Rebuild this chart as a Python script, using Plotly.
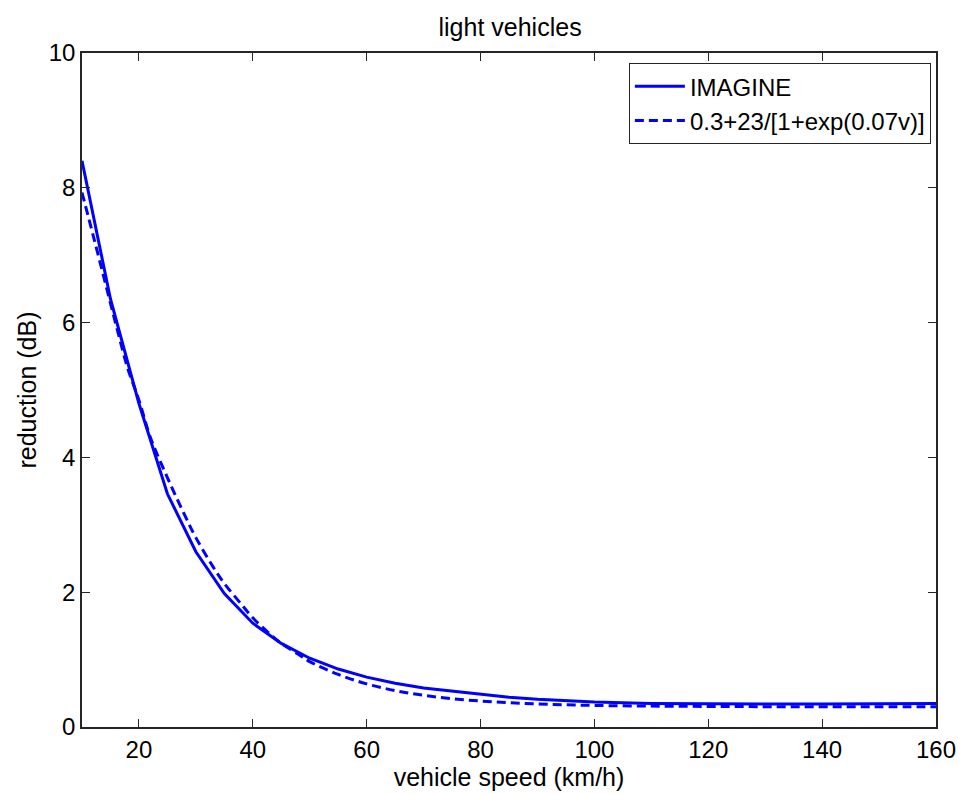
import plotly.graph_objects as go

speed = [10, 15, 20, 25, 30, 35, 40, 45, 50, 55, 60, 65, 70, 75, 80, 85, 90, 95, 100,
         110, 120, 130, 140, 150, 155, 160]
imagine = [8.40, 6.35, 4.80, 3.46, 2.60, 1.98, 1.54, 1.24, 1.02, 0.86, 0.74, 0.65, 0.58,
           0.53, 0.48, 0.44, 0.41, 0.39, 0.37, 0.35, 0.34, 0.34, 0.34, 0.34, 0.35, 0.35]

fit_speed = [10, 12, 14, 16, 18, 20, 22, 25, 28, 30, 33, 35, 38, 40, 43, 45, 48, 50, 55, 60,
             65, 70, 75, 80, 85, 90, 95, 100, 110, 120, 130, 140, 150, 160]
fit_vals = [7.93, 7.28, 6.62, 5.96, 5.33, 4.85, 4.30, 3.70, 3.15, 2.81, 2.38, 2.13, 1.82,
            1.62, 1.38, 1.24, 1.08, 0.97, 0.78, 0.64, 0.54, 0.47, 0.42, 0.385, 0.36, 0.342,
            0.33, 0.32, 0.31, 0.305, 0.302, 0.301, 0.30, 0.30]

x_ticks = [20, 40, 60, 80, 100, 120, 140, 160]
y_ticks = [0, 2, 4, 6, 8, 10]

FONT = "Liberation Sans, Arial, sans-serif"

fig = go.Figure()
fig.add_trace(go.Scatter(x=speed, y=imagine, mode="lines", name="IMAGINE",
                         line=dict(color="#0000ff", width=3)))
fig.add_trace(go.Scatter(x=fit_speed, y=fit_vals, mode="lines",
                         name="0.3+23/[1+exp(0.07v)]",
                         line=dict(color="#0000ff", width=3, dash="9px,5px", shape="spline")))

axis_common = dict(showgrid=False, zeroline=False, showline=True, linecolor="#262626",
                   linewidth=1.5, mirror="ticks", ticks="inside", ticklen=8,
                   tickcolor="#262626", tickwidth=1,
                   tickfont=dict(family=FONT, size=24, color="black"))

fig.update_layout(
    width=960, height=786,
    paper_bgcolor="white", plot_bgcolor="white",
    margin=dict(l=74, r=27, t=45, b=65),
    title=dict(text="light vehicles", x=0.523, xanchor="center", y=0.975, yanchor="middle",
               font=dict(family=FONT, size=25, color="black")),
    xaxis=dict(range=[10, 160], tickvals=x_ticks, ticktext=[str(v) for v in x_ticks],
               title=dict(text="vehicle speed (km/h)", standoff=2,
                          font=dict(family=FONT, size=25, color="black")),
               **axis_common),
    yaxis=dict(range=[0, 10], tickvals=y_ticks, ticktext=[str(v) for v in y_ticks],
               title=dict(text="reduction (dB)", standoff=5,
                          font=dict(family=FONT, size=25, color="black")),
               **axis_common),
    legend=dict(x=0.994, xanchor="right", y=0.985, yanchor="top",
                bordercolor="#262626", borderwidth=1, bgcolor="white",
                font=dict(family=FONT, size=24, color="black"),
                itemwidth=50, tracegroupgap=0),
    showlegend=True,
)

fig.write_html("out.html")
